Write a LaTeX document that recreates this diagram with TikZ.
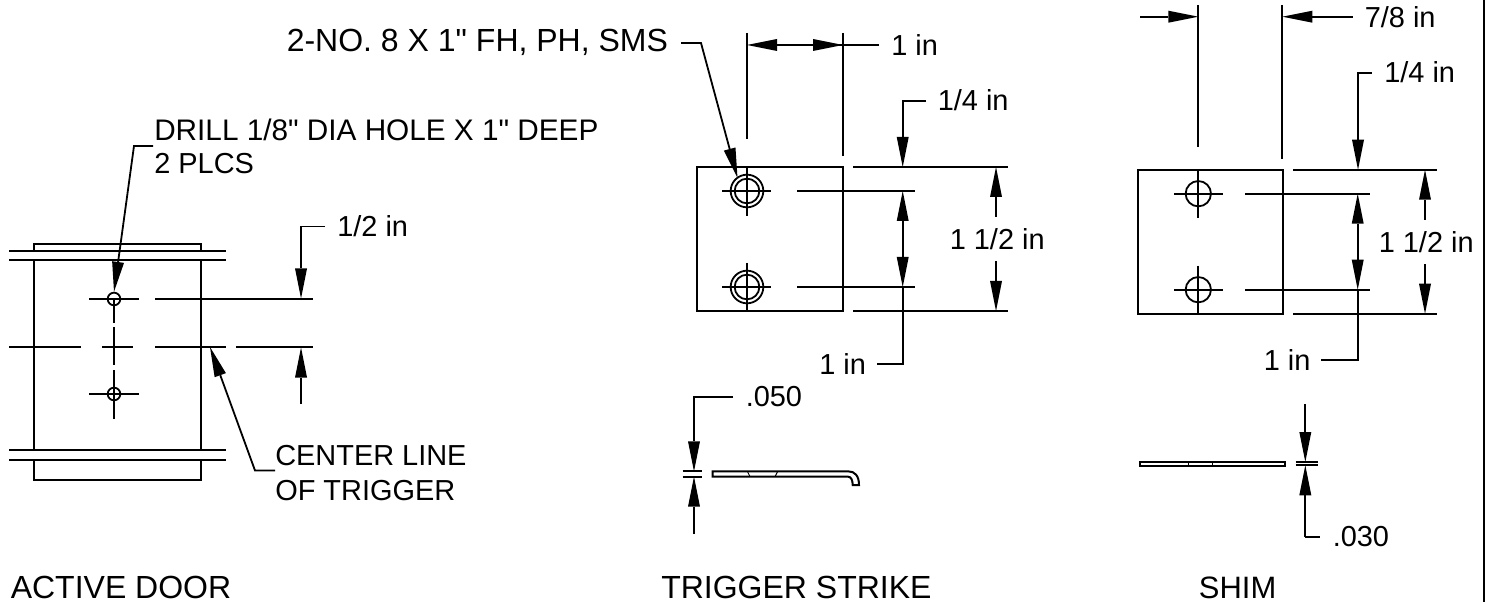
\documentclass[tikz,border=0pt]{standalone}
\usepackage{fontspec}
\setmainfont{Liberation Sans}
\usetikzlibrary{arrows.meta}
\tikzset{
  ln/.style={line width=1.5pt,black},
  thn/.style={line width=1.35pt,black},
  lead/.style={line width=1.35pt,black,-{Triangle[length=22.5pt,width=9pt,fill=black,line width=0pt]}},
  lab/.style={inner sep=0pt,anchor=base west,font=\fontsize{21.7pt}{24pt}\selectfont},
  big/.style={inner sep=0pt,anchor=base west,font=\fontsize{24pt}{26pt}\selectfont},
  holeA/.style={circle,draw,line width=1.35pt,inner sep=0pt,minimum size=9.5pt},
  holeB/.style={circle,draw,line width=1.35pt,inner sep=0pt,minimum size=24.5pt},
  holeC/.style={circle,draw,line width=1.35pt,inner sep=0pt,minimum size=18.5pt},
  holeD/.style={circle,draw,line width=1.35pt,inner sep=0pt,minimum size=19pt}
}
\begin{document}
\begin{tikzpicture}[x=0.75pt,y=-0.75pt]
\useasboundingbox (0,0) rectangle (1489,602);
\fill[white] (0,0) rectangle (1489,602);
% page border
\coordinate (bt) at (1484,0); \coordinate (bb) at (1484,602);
\draw[line width=1.7pt] (bt) -- (bb);

% ---- ACTIVE DOOR
\draw[ln] (34,251)--(34,244.5)--(201,244.5)--(201,251);
\draw[ln] (34,260)--(34,450) (201,260)--(201,450);
\draw[ln] (34,460)--(34,480)--(201,480)--(201,460);
\draw[ln] (9,251)--(226,251) (9,260)--(226,260) (9,450)--(226,450) (9,460)--(226,460);
\draw[thn] (114,299)--(114,323) (114,327)--(114,365) (114,370)--(114,419);
\draw[ln] (89,299)--(139,299) (155,299)--(313,299);
\draw[ln] (9,347)--(81,347) (102,347)--(133,347) (155,347)--(226,347) (236,347)--(313,347);
\draw[ln] (89,394)--(139,394);
\node[holeA] (h1) at (114,299) {};
\node[holeA] (h2) at (114,394) {};
\node[lab,font=\fontsize{22.3pt}{24pt}\selectfont] (drill) at (154,141) {DRILL 1/8\textquotedbl{} DIA HOLE X 1\textquotedbl{} DEEP};
\node[lab] (plcs) at (154,173.5) {2 PLCS};
\coordinate (drillL) at (153,146);
\draw[lead] (drillL)--(134,146)--(h1.north);
\node[lab] (half) at (337,236.5) {1/2 in};
\coordinate (halfL) at (325,226.5); \coordinate (halfT) at (301,298.5); \coordinate (halfB) at (301,347.5); \coordinate (halfE) at (301,404);
\draw[lead] (halfL)--(301,226.5)--(halfT);
\draw[lead] (halfE)--(halfB);
\node[lab] (cl1) at (275,465) {CENTER LINE};
\node[lab] (cl2) at (275,500) {OF TRIGGER};
\coordinate (clL) at (275,470.5); \coordinate (clT) at (210,347);
\draw[lead] (clL)--(255,470.5)--(clT);
\node[big] (t1) at (10.5,598) {ACTIVE DOOR};

% ---- TRIGGER STRIKE
\draw[ln] (697.3,167) rectangle (843,311);
\foreach \y in {191,287}{
  \node[holeB] at (747,\y) {};
  \node[holeC] at (747,\y) {};
  \draw[thn] (722,\y)--(771,\y);
}
\coordinate (hs) at (737.5,178);
\draw[thn] (747,33)--(747,139) (747,167)--(747,216) (747,263)--(747,311);
\draw[thn] (843,33)--(843,156);
\draw[ln] (853,167)--(1008,167) (797,191)--(915,191) (797,287)--(915,287) (853,311)--(1008,311);
\node[big] (screw) at (286.5,51.7) {2-NO. 8 X 1\textquotedbl{} FH, PH, SMS};
\coordinate (screwL) at (681,43);
\draw[lead] (screwL)--(701,43)--(hs);
\node[lab] (w1) at (891,56) {1 in};
\coordinate (w1L) at (879,45); \coordinate (w1A) at (747,45); \coordinate (w1B) at (812,45); \coordinate (w1C) at (843,45);
\draw[lead] (w1L)--(w1A);
\draw[lead] (w1B)--(w1C);
\node[lab] (q1) at (937.5,111) {1/4 in};
\coordinate (q1L) at (926,101); \coordinate (q1T) at (902.7,167);
\draw[lead] (q1L)--(902.7,101)--(q1T);
\coordinate (i1T) at (902.7,191); \coordinate (i1B) at (902.7,287); \coordinate (i1m) at (902.7,240); \coordinate (i1L) at (877,364);
\draw[lead] (i1m)--(i1T);
\draw[lead] (i1m)--(i1B);
\draw[thn] (i1B)--(902.7,364)--(i1L);
\node[lab] (i1) at (819,374) {1 in};
\node[lab] (a1) at (949.5,250) {1 1/2 in};
\coordinate (a1T) at (996,167); \coordinate (a1B) at (996,311); \coordinate (a1u) at (996,217); \coordinate (a1d) at (996,261);
\draw[lead] (a1u)--(a1T);
\draw[lead] (a1d)--(a1B);
% side view
\draw[ln] (848,471.3)--(712.7,471.3)--(712.7,476.7)--(848,476.7)
  .. controls (851,476.7) and (852.7,480) .. (852.7,485) -- (859,485)
  .. controls (859,476) and (855,471.3) .. (848,471.3);
\draw[line width=0.7pt] (747.3,471.3)--(750,476.7) (777.7,471.3)--(775,476.7);
\draw[ln] (682.7,471.3)--(702,471.3) (682.7,476.7)--(702,476.7);
\node[lab] (th1) at (745.5,406.7) {.050};
\coordinate (th1L) at (733,396.7); \coordinate (th1T) at (694,471.3); \coordinate (th1B) at (694,476.7); \coordinate (th1E) at (694,534);
\draw[lead] (th1L)--(694,396.7)--(th1T);
\draw[lead] (th1E)--(th1B);
\node[big] (t2) at (661,598) {TRIGGER STRIKE};

% ---- SHIM
\draw[ln] (1138.3,169.7) rectangle (1282.7,313.7);
\foreach \y in {193.7,289.7}{
  \node[holeD] at (1198.3,\y) {};
  \draw[thn] (1174,\y)--(1222.7,\y);
}
\draw[thn] (1198.3,5)--(1198.3,146.7) (1198.3,169.7)--(1198.3,218) (1198.3,265.7)--(1198.3,313.7);
\draw[thn] (1282.3,5)--(1282.3,158.7);
\draw[ln] (1293.3,169.7)--(1436.7,169.7) (1245,193.7)--(1370,193.7) (1245,289.7)--(1370,289.7) (1293.3,313.7)--(1436.7,313.7);
\node[lab] (w2) at (1364.5,27.5) {7/8 in};
\coordinate (w2a) at (1140,16.7); \coordinate (w2b) at (1198.3,16.7); \coordinate (w2c) at (1352.7,16.7); \coordinate (w2d) at (1282.3,16.7);
\draw[lead] (w2a)--(w2b);
\draw[lead] (w2c)--(w2d);
\node[lab] (q2) at (1384,83) {1/4 in};
\coordinate (q2L) at (1371.7,72.7); \coordinate (q2T) at (1358,169.7);
\draw[lead] (q2L)--(1358,72.7)--(q2T);
\coordinate (i2T) at (1357.7,193.7); \coordinate (i2B) at (1357.7,289.7); \coordinate (i2m) at (1357.7,242); \coordinate (i2L) at (1321,360);
\draw[lead] (i2m)--(i2T);
\draw[lead] (i2m)--(i2B);
\draw[thn] (i2B)--(1357.7,360)--(i2L);
\node[lab] (i2) at (1263.5,370.5) {1 in};
\node[lab] (a2) at (1378.5,253) {1 1/2 in};
\coordinate (a2T) at (1425,169.7); \coordinate (a2B) at (1425,313.7); \coordinate (a2u) at (1425,220); \coordinate (a2d) at (1425,264.3);
\draw[lead] (a2u)--(a2T);
\draw[lead] (a2d)--(a2B);
% side view
\draw[ln] (1140,461.7) rectangle (1285,465.7);
\draw[line width=0.7pt] (1188,461.7)--(1188,465.7) (1212.7,461.7)--(1212.7,465.7);
\draw[ln] (1295.7,462)--(1317.7,462) (1295.7,465.3)--(1317.7,465.3);
\node[lab] (th2) at (1332.5,546.7) {.030};
\coordinate (th2S) at (1305.3,404); \coordinate (th2T) at (1305.3,462); \coordinate (th2B) at (1305.3,465.3); \coordinate (th2L) at (1320,536.7);
\draw[lead] (th2S)--(th2T);
\draw[lead] (1305.3,536.7)--(th2B);
\draw[thn] (1305.3,536.7)--(th2L);
\node[lab,font=\fontsize{23.2pt}{24pt}\selectfont] (t3) at (1198.7,598) {SHIM};
\end{tikzpicture}
\end{document}
